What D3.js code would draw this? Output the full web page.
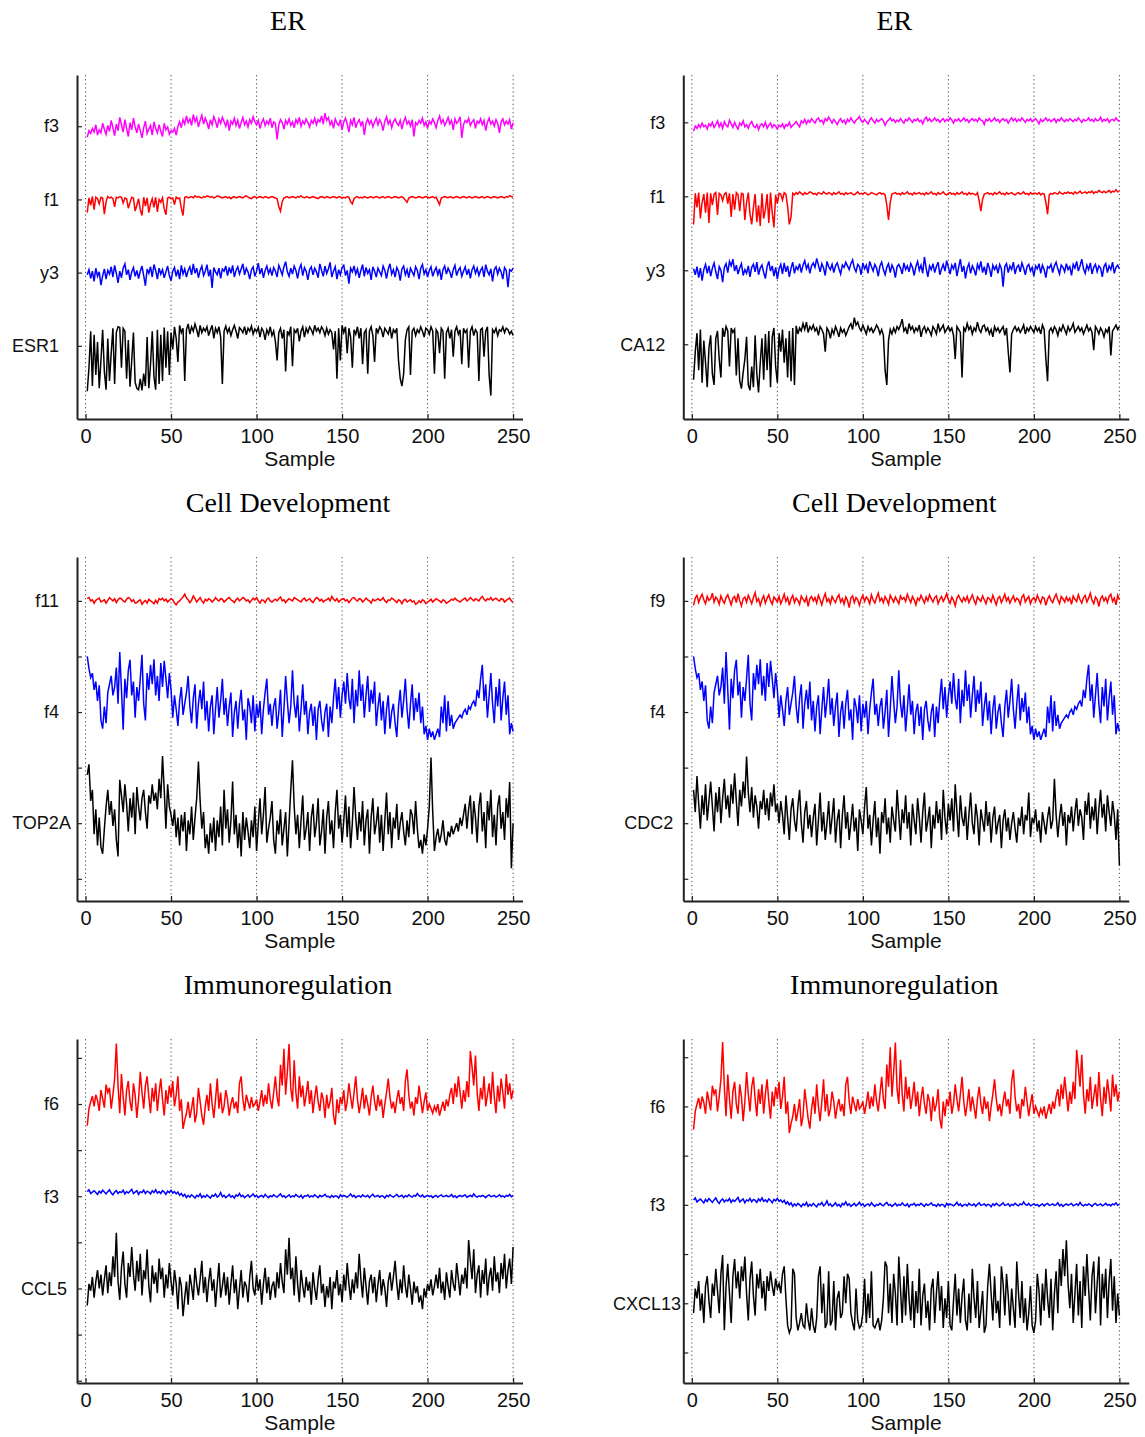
<!DOCTYPE html>
<html>
<head>
<meta charset="utf-8">
<script src="https://cdn.jsdelivr.net/npm/d3@7"></script>
<style>
  body { margin: 0; background: #fff; }
  svg { display: block; }
</style>
</head>
<body>
<svg id="chart" width="1145" height="1437"></svg>
<script>
// ---- data: per-sample values, offsets from each trace's baseline (1/100 of a y tick step) ----
const titles = ["ER", "Cell Development", "Immunoregulation"];
const xTicks = [0, 50, 100, 150, 200, 250];

const erNamesL = ["f3", "f1", "y3", "ESR1"];
const erNamesR = ["f3", "f1", "y3", "CA12"];
const cdNamesL = ["f11", "f4", "TOP2A"];
const cdNamesR = ["f9", "f4", "CDC2"];
const imNamesL = ["f6", "f3", "CCL5"];
const imNamesR = ["f6", "f3", "CXCL13"];

const erF3L = [
  -15,-6,-10,-3,-8,2,-12,-5,-9,4, -4,-11,1,-7,8,-2,-13,3,-6,12, 2,-8,9,-3,-14,5,-5,11,-1,-9, 3,-6,-16,-2,7,-10,-4,1,-12,6, -3,-9,2,-7,-14,4,-5,-1,-11,-6,
  -8,-3,-12,0,6,-2,9,3,14,5, 10,1,16,6,12,-1,8,15,3,11, 5,-4,9,2,13,7,-2,10,4,12, 6,0,9,-6,7,3,11,1,8,-3, 5,12,2,7,-1,9,4,13,6,2,
  8,-3,5,10,1,7,3,11,-2,6, 4,-18,2,9,5,-4,8,3,10,1, 6,-2,9,4,12,0,7,3,10,5, -1,8,4,11,2,9,6,14,3,18, 8,12,2,7,-3,10,4,1,9,-5,
  6,11,3,-8,8,2,12,-2,5,9, 1,7,-12,4,10,3,8,-1,6,11, 2,9,4,-6,7,13,3,8,-2,6, 10,4,1,8,-4,6,12,3,7,0, 9,-14,5,2,8,4,11,1,6,-3,
  7,3,10,5,-2,8,14,4,9,1, 6,12,3,8,-5,10,4,7,13,-16, 2,8,5,11,1,6,9,-3,7,4, 10,2,8,-6,5,11,3,7,0,9, 4,-9,6,10,2,7,3,9,-4,5
];
const erF1L = [
  -18,2,-8,4,-14,3,1,-6,3,2, -20,-3,4,2,3,1,-10,3,2,4, 3,-5,2,1,-12,-4,3,2,-16,-8, 1,-14,-22,3,-9,2,-18,-6,1,-11, 3,-17,0,-4,2,-13,-21,2,3,1,
  2,-7,3,1,2,-12,-22,3,4,2, 3,4,2,5,3,4,3,2,4,3, 5,4,3,4,2,3,5,4,3,2, 3,4,2,3,1,3,4,2,3,4, 3,2,4,5,3,2,1,3,4,2,
  3,4,3,2,4,3,2,3,4,3, 2,1,-10,-16,-3,2,3,4,2,3, 4,3,2,4,3,5,3,2,4,3, 2,3,4,3,2,1,3,4,3,2, 4,3,2,3,4,3,2,4,3,2,
  3,2,4,3,-3,-6,1,3,4,2, 3,2,4,3,2,3,4,2,3,4, 3,2,3,4,2,3,4,3,2,3, 4,3,2,3,4,2,-1,-4,2,3, 4,3,2,3,4,3,2,3,4,3,
  2,3,4,2,3,-2,-7,2,3,4, 3,2,4,3,2,3,4,3,2,3, 4,3,2,4,3,2,3,4,3,2, 3,4,2,3,4,3,2,3,4,3, 2,3,4,3,2,4,3,5,4,3
];
const erY3L = [
  -3,4,-8,2,-12,6,-5,1,-17,-4, 5,-9,3,-2,8,-6,10,-1,-14,2, -7,6,12,-3,4,-10,1,7,-5,3, -8,2,9,-4,-18,5,-1,8,-6,11, 3,-9,6,-2,4,-7,1,9,-4,-11,
  2,7,-5,4,-9,10,-2,5,-6,3, 8,-3,12,-1,6,-7,3,9,-4,2, 11,-5,4,-21,7,1,-3,6,-8,5, 2,9,-4,7,-1,10,-6,3,8,-2, 5,12,-3,6,1,-9,4,8,-5,2,
  13,-2,6,-7,3,9,-1,5,-4,7, 2,-6,10,4,-3,8,15,1,-5,6, -2,9,3,-8,5,11,-4,7,2,-10, 4,8,-3,6,1,-7,12,3,-5,9, -1,5,14,-6,2,8,-9,4,-3,7,
  10,-4,3,-15,6,1,9,-2,5,-7, 3,11,-5,7,-1,4,-10,8,2,-6, 6,1,-4,9,3,-8,5,12,-2,4, -6,7,2,-11,5,9,-3,4,-7,6, 1,-4,8,3,-9,6,11,-2,4,-6,
  3,8,-5,2,7,-3,5,-10,4,9, -2,6,1,-7,4,10,-4,3,7,-5, 2,8,-3,5,-8,4,9,-1,6,-4, 3,7,-6,11,2,-3,5,-12,4,8, -2,6,1,-9,7,3,-20,4,2,6
];
const esr1 = [
  -62,-30,20,-55,15,-40,5,-58,-20,22, -35,-60,10,-48,-10,24,-52,18,26,25, -30,24,20,-45,8,-56,-20,18,-50,-58, -60,-45,-61,-38,-55,12,-58,-25,20,-42, -60,22,-52,15,-48,25,-30,20,-40,18,
  -5,26,10,-22,28,18,24,-48,22,30, 16,26,20,30,22,12,28,18,24,20, 26,14,22,28,10,24,18,26,12,-52, 20,27,18,24,14,22,28,20,10,25, 22,18,26,15,24,20,27,16,23,19,
  25,12,24,20,8,22,16,26,14,20, 6,-20,18,24,10,22,-35,20,15,26, -28,22,18,24,6,20,26,12,24,18, 26,22,16,28,20,24,18,26,22,14, 24,16,22,18,-5,20,-45,24,-20,28,
  18,26,-10,24,12,-30,22,16,26,10, 24,-25,18,22,-38,20,26,14,-22,24, 18,26,22,12,24,20,16,26,10,22, 18,24,-20,-45,-55,-38,8,22,26,-40, 20,24,14,22,18,26,20,12,24,22,
  16,26,20,-38,22,18,-10,24,20,-45, 18,24,10,22,-15,20,26,16,22,-25, 24,18,22,-30,20,26,14,22,18,-48, 22,24,-15,20,26,-40,-68,22,18,24, 14,22,20,26,18,24,22,16,20,14
];

const erF3R = [
  -12,-5,-8,-3,-7,-1,-6,-4,-9,-2, -5,0,-7,-3,2,-6,-1,-8,1,-4, -6,3,-2,-7,0,-5,-9,-1,-4,2, -6,-3,-8,-2,1,-5,-7,-3,-10,-4, -2,-6,0,-8,-4,-1,-7,-3,-5,-9,
  -4,-6,-2,-8,-3,-5,0,-7,-4,-2, 1,-3,-6,2,-1,4,-2,3,0,5, 2,-1,4,6,1,3,-2,5,2,7, 3,-1,4,1,-3,2,5,0,3,-2, 4,1,6,2,-1,3,5,8,2,0,
  4,1,-2,3,6,2,-1,4,1,3, 5,2,-4,1,3,6,2,4,0,3, 1,5,2,-1,4,2,6,3,0,4, 2,5,1,3,-2,4,7,2,5,1, 3,6,2,4,0,3,5,1,4,2,
  6,3,-1,4,2,5,1,3,6,2, 4,0,3,5,2,4,1,6,3,2, -3,4,2,5,1,3,6,2,4,0, 3,5,2,4,-1,3,6,2,5,1, 4,2,6,3,0,4,2,5,1,3,
  5,2,-2,4,1,3,6,2,4,1, 3,5,0,4,2,6,3,1,4,2, 5,3,1,4,2,6,3,0,4,2, 3,6,2,4,1,5,2,3,7,1, 4,2,5,0,3,4,2,6,3,1
];
const erF1R = [
  -38,4,-15,5,-30,-8,3,-22,5,-36, 4,-12,3,5,-25,4,2,-6,3,5, -10,4,-28,3,-18,5,2,-20,4,3, -32,-8,5,-24,-38,-15,3,-35,-12,-40, 4,-30,-18,3,-36,5,-22,-42,2,-10,
  4,3,-5,5,3,-14,-38,-28,4,2, 5,3,6,4,2,5,3,4,6,5, 3,4,2,5,4,3,6,4,3,5, 4,2,5,3,4,6,3,4,2,5, 3,4,5,3,2,4,6,3,4,3,
  5,4,2,3,5,4,3,2,4,5, 3,4,2,-12,-32,-8,3,4,5,3, 4,2,5,3,4,6,3,4,2,5, 3,4,5,3,4,2,5,3,4,6, 3,4,2,5,3,4,6,3,2,4,
  5,3,4,2,5,3,4,6,3,4, 2,5,3,4,3,2,5,-6,-20,-4, 3,4,5,3,4,2,5,3,4,6, 3,4,2,5,3,4,5,3,2,4, 5,3,4,6,3,4,2,5,3,4,
  4,3,5,2,4,3,-8,-24,2,4, 3,5,4,3,6,4,3,5,4,6, 4,5,3,6,4,5,7,4,5,6, 4,6,5,7,4,6,5,8,6,5, 7,5,6,8,5,7,6,9,6,7
];
const erY3R = [
  2,-6,5,-10,3,-14,1,8,-4,6, -8,3,10,-2,-12,5,0,-16,4,9, -3,12,6,15,-1,7,-5,3,9,-7, 1,-4,6,-9,4,8,-2,11,-6,3, 7,-3,-11,5,12,-1,6,-8,4,-12,
  2,8,-5,10,-2,6,-9,3,11,-4, 5,1,9,-3,7,13,2,8,-4,6, 10,4,16,7,-2,9,3,-7,12,5, 1,8,-3,6,10,2,-5,7,4,11, 6,1,9,14,3,-2,8,5,-6,10,
  2,7,-4,12,5,-1,8,3,-8,6, 11,1,-6,4,9,-3,7,2,-10,5, 8,3,-5,10,1,6,-2,9,4,-7, 5,12,0,7,-4,18,3,-9,6,1, 9,-3,5,11,-6,2,8,-1,13,4,
  -5,7,2,10,-8,4,15,-2,6,-11, 3,9,-4,6,1,-7,8,2,12,-3, 5,-6,10,3,-9,7,1,6,-4,8, 2,-22,5,9,-3,6,1,11,-5,4, 7,-2,10,3,-6,5,8,-1,4,-8,
  6,2,9,-4,7,1,-10,5,3,8, -3,6,11,2,-5,7,4,-2,9,1, 5,-7,8,3,12,-1,6,15,2,-4, 7,1,10,-5,4,8,-2,6,3,-9, 5,9,-3,6,1,11,-4,4,7,2
];
const ca12 = [
  -48,-10,15,-35,20,-52,5,-25,-58,-5, 12,-40,-55,8,18,-20,-45,22,10,24, 18,-30,22,16,20,-42,8,-50,-60,-38, -20,10,-55,-62,-30,-58,12,-40,-65,-25, 8,-48,14,-35,18,-58,10,22,-30,-52,
  15,-10,20,-25,8,-45,18,-50,22,-55, 25,14,22,18,28,20,30,16,24,20, 26,18,22,12,24,20,14,-10,22,18, 8,20,14,24,18,10,22,16,20,12, 18,24,28,20,36,26,30,22,18,26,
  20,14,24,18,22,16,20,26,22,14, 20,12,-35,-55,5,20,14,22,16,24, 20,26,34,18,22,14,28,20,24,16, 22,18,26,10,20,24,16,22,18,12, 24,20,14,28,18,22,26,16,20,24,
  18,22,12,-20,24,20,16,-45,22,18, 28,20,24,14,22,18,30,20,16,24, 26,18,22,14,20,10,24,18,22,16, 20,24,12,22,-10,-38,14,20,24,18, 22,16,20,26,14,22,18,24,20,16,
  24,18,22,14,26,20,-20,-50,18,22, 16,24,20,12,22,18,26,20,14,24, 18,22,28,16,20,24,18,22,14,20, 26,18,22,16,-8,24,20,14,22,18, 10,20,16,24,-15,18,22,26,20,24
];

const cdF11 = [
  4,6,0,2,-4,1,3,5,-2,0, 2,-4,1,6,3,0,4,-3,2,5, 4,0,-2,3,6,4,-1,2,-4,-3, 0,2,-6,-2,1,-4,3,0,-2,-5, 1,-4,4,2,5,0,3,-2,1,4,
  2,-4,-7,-2,0,4,7,12,5,2, -3,1,9,4,-2,2,6,0,-4,3, 0,4,2,-2,1,6,2,0,4,3, -2,1,4,6,2,0,-3,2,5,0, 3,6,4,0,2,-3,1,5,2,6,
  0,-4,2,1,-3,3,5,0,-2,1, 3,0,4,7,0,2,-3,1,4,2, 0,6,4,2,0,-2,3,5,0,2, 4,0,-3,2,6,4,0,3,-2,1, 2,5,0,8,3,0,4,-2,1,3,
  4,0,2,-3,1,5,6,2,0,4, 3,-2,1,5,2,0,-4,3,0,2, 4,1,2,6,0,-3,2,1,5,3, 0,-3,2,0,-5,1,3,-2,0,2, -2,0,-6,-4,0,-3,2,0,-5,-2,
  0,3,-2,1,4,2,0,-3,2,0, -4,-2,0,3,1,5,2,0,-2,1, 3,5,0,2,6,3,0,4,2,0, 5,8,3,0,4,2,6,1,3,5, 2,0,4,3,-2,1,3,5,0,-2
];
// f4 is the same factor in both Cell Development panels
const cdF4 = [
  100,78,62,70,40,55,20,48,-15,-30, 10,-20,35,50,65,30,45,80,15,108, 40,-32,60,25,75,94,30,55,-10,45, 20,60,103,15,-15,70,40,85,50,95, 30,65,20,88,45,92,60,25,70,40,
  -10,30,5,-25,20,45,-5,15,35,65, 10,-20,25,50,-30,15,40,5,55,-15, 20,-35,10,30,-40,5,45,-10,20,60, -5,25,-25,10,35,-45,0,20,-30,15, 40,-15,5,-50,25,10,-20,30,-35,15,
  -10,20,-40,5,35,60,-5,15,-25,10, 25,-30,0,40,-45,5,65,20,-20,10, 75,15,-10,30,-35,5,50,-5,20,-40, 0,15,-25,10,-50,5,20,-15,-35,0, 15,-45,10,-20,25,60,5,45,-10,30,
  55,15,70,25,5,60,-20,40,10,75, 20,50,-10,30,65,0,40,15,55,-25, 10,35,-15,20,-40,5,30,-30,0,15, -20,-45,10,40,-10,20,60,5,-30,15, 50,-15,25,0,35,-20,10,-40,-25,-50,
  -30,-45,-35,-50,-40,-30,-45,10,-20,30, -35,20,-25,-5,-30,-20,-15,-10,-5,-10, 0,5,-5,10,5,15,20,10,40,25, 60,85,20,50,-10,30,70,15,-20,45, 10,60,-15,25,55,-5,30,-40,-20,-35
];
const top2a = [
  87,106,40,60,-20,25,-40,10,-43,-55, -10,30,60,15,40,-5,25,-30,-60,78, 50,20,70,35,-15,45,10,55,-20,65, 30,5,45,60,20,-10,50,35,70,40, 55,25,80,45,121,60,-10,70,30,15,
  -5,25,-25,10,-40,15,-15,20,-50,5, -20,30,-30,10,45,111,40,-10,20,-45, -20,-55,0,-35,10,-50,5,-25,30,-40, 60,-10,25,-35,5,75,-20,15,-45,0, -60,20,-30,10,-15,-45,5,-25,30,-50,
  0,45,-20,15,65,-35,-10,10,40,-30, -55,5,-20,25,-40,-10,20,-60,0,60, 113,30,-20,15,-45,5,50,-30,-10,20, -50,10,35,-25,0,45,-40,-15,25,-55, 10,40,-20,5,-45,20,60,-10,15,-35,
  5,50,-25,30,-45,0,65,10,-30,20, -15,40,-40,5,25,-55,10,45,-20,0, 30,-35,15,-50,5,55,-20,20,-45,10, -10,35,-30,0,20,-15,-40,5,-25,25, 15,-20,40,-10,-45,-30,-55,-20,-40,-10,
  30,118,20,-50,-25,-10,-35,-20,5,-30, -40,-15,-25,-5,-20,-10,0,-15,10,-5, 15,35,-10,25,50,-20,40,10,-35,30, 55,-15,20,-45,40,5,60,-25,15,-40, 30,50,-10,20,-30,45,10,74,-81,0
];
const cdF9 = [
  -8,5,10,-3,6,12,2,-5,8,1, 4,14,-2,7,3,-6,9,1,-4,6, 11,2,-7,5,8,-3,13,0,-9,4, 7,-2,10,3,-5,6,15,-1,4,-8, 2,9,-4,5,11,0,-6,7,3,-2,
  8,-5,3,12,-1,6,-8,4,10,-3, 5,1,-6,9,3,-2,7,-10,4,8, 0,6,-4,10,2,-7,5,13,-1,4, -5,8,2,-3,6,11,-2,4,-6,7, 1,-12,5,9,-3,6,2,-8,4,10,
  -1,7,3,-5,11,2,-4,6,14,0, 5,-3,8,2,-6,10,4,-2,7,1, -5,9,3,6,-1,12,4,-3,8,2, -7,5,1,10,3,-4,7,0,11,4, -2,6,9,-5,3,8,-1,5,13,2,
  -4,7,1,-9,5,10,3,-2,6,0, 8,-3,4,11,1,-6,7,3,-1,9, 2,-5,6,4,-2,10,1,-7,5,8, -3,4,12,0,6,-4,3,9,-1,5, 2,-6,7,11,-2,4,8,-5,3,6,
  -1,10,2,-4,7,5,-8,3,9,1, -3,6,12,2,-5,8,4,-2,7,0, 5,-6,9,3,-1,11,2,-4,6,10, -2,5,14,1,-5,7,3,-10,4,9, 0,6,-3,8,12,-1,5,-7,10,2
];
const cdc2 = [
  60,20,85,35,-10,50,15,70,5,40, 75,30,-15,55,20,65,0,45,80,25, 50,10,70,35,90,40,-5,60,30,75, 45,120,55,20,65,10,50,30,-10,40, 25,60,15,45,5,55,30,70,20,35,
  0,40,15,-20,50,10,-30,25,45,5, -15,30,60,0,-35,20,40,-10,15,-25, 10,35,-40,5,55,-15,20,-30,0,40, -20,10,45,-35,5,25,-45,15,50,-10, 20,-30,0,35,-15,10,-50,25,5,-20,
  30,65,-10,15,-40,5,40,-25,10,-55, 20,0,45,-20,10,-35,30,5,-15,60, 15,-30,25,0,50,-10,20,-40,35,5, -20,45,10,-35,20,55,-15,5,30,-45, 15,-10,40,0,25,-30,60,10,-20,35,
  5,45,-15,70,20,-25,50,10,-5,30, -30,15,55,0,-20,35,10,-40,25,5, -15,40,-5,20,-35,10,30,-20,0,15, -45,5,25,-15,10,-30,0,20,-10,-35, 10,-5,30,-20,15,5,55,-25,10,0,
  25,-15,5,-35,20,0,-20,10,30,-10, 5,80,15,-25,10,35,-5,20,-40,15, 0,30,-15,20,45,-5,25,10,-30,40, 15,55,-10,30,5,45,-20,25,60,10, 35,-15,50,20,-5,40,15,-30,25,-76
];

// f6 and f3 are the same factors in both Immunoregulation panels
const imF6 = [
  -47,-10,5,17,-5,20,8,-15,30,12, -8,42,25,35,-10,20,55,131,40,-20, 65,15,-25,30,50,5,-15,45,20,-30, 10,70,25,-10,40,60,15,-20,35,5, 45,-15,25,55,10,-25,30,0,40,15,
  50,-5,20,60,-15,10,-54,-35,-20,5, -30,-10,15,-40,-20,35,5,-25,-45,-5, 20,-15,45,0,-30,10,55,-10,25,-20, -5,30,10,-25,0,15,-10,5,-20,45, 60,10,-15,20,5,-10,15,-5,0,10,
  -15,5,30,-5,20,0,45,10,-10,25, 60,15,-5,85,40,120,20,70,130,35, 5,95,25,-10,60,15,40,-5,20,50, 0,30,-20,15,40,5,-15,25,10,-30, 20,-10,5,35,-25,-45,10,-20,15,0,
  30,-15,5,45,15,-10,25,60,10,-20, 5,35,-10,20,0,-25,15,40,5,-15, 20,-5,10,-30,0,25,55,15,-10,5, -20,10,30,0,15,-15,50,75,20,-10, 5,-25,15,0,40,10,-20,5,25,-15,
  0,-10,-20,-5,-15,0,-25,-10,5,-15, 10,-5,20,35,0,45,15,60,25,-10, 30,5,50,15,115,80,40,105,25,-15, 35,10,60,-5,20,45,0,70,15,-20, 40,5,55,25,-10,65,20,45,10,30
];
const imF3 = [
  10,14,6,9,12,8,4,11,7,13, 9,5,10,14,7,3,9,12,6,10, 8,13,5,10,7,11,15,6,9,12, 4,10,8,13,6,11,9,5,12,8, 14,7,10,6,12,9,4,11,8,13,
  7,10,5,9,2,6,0,4,-3,2, -2,3,0,-4,2,-1,5,-3,1,-2, 3,-1,-4,2,0,5,-2,1,8,-1, 2,-3,0,4,-2,1,-4,3,0,6, -1,2,-3,0,3,-2,1,5,-1,2,
  -3,0,2,-2,4,0,-3,1,-1,3, 0,-2,2,5,-1,1,-3,0,3,-2, 1,-1,4,0,-2,2,-4,1,0,3, -2,1,-1,3,0,-3,2,-1,1,4, -1,0,-3,2,-2,1,0,-4,3,-1,
  2,0,-2,1,5,-1,2,-3,0,1, -2,3,0,-1,2,-3,1,4,-1,0, 2,-2,1,0,-4,2,-1,3,0,-2, 1,4,-1,0,2,-3,1,-1,3,0, -2,2,0,6,1,-1,3,-2,0,2,
  -1,1,-3,0,2,-2,1,3,-1,0, 2,-1,0,4,-2,1,-3,0,2,-1, 1,3,-2,0,2,-1,5,0,-2,1, -1,2,0,-3,1,3,-1,0,2,-2, 0,3,-1,1,-2,2,0,4,-1,1
];
const ccl5 = [
  -37,10,-5,25,-20,15,40,0,30,-15, 20,50,-10,35,5,70,25,121,15,-25, 45,80,10,-20,55,25,90,30,-5,60, 15,75,-15,40,20,85,5,-30,50,10, 35,-10,65,20,45,-20,30,0,55,15,
  -15,40,10,-45,25,5,-60,-20,15,-35, 30,5,-25,45,10,-15,20,60,-10,25, -30,15,45,-5,20,-40,10,55,-20,5, 35,-15,25,-35,10,50,-10,20,-45,0, 40,-20,15,5,-30,25,60,0,-15,30,
  -5,20,-35,10,45,-10,25,-25,5,15, -20,35,0,55,15,-10,85,30,110,20, 45,-15,70,10,-30,40,5,-20,25,-5, 15,-35,35,0,-25,20,50,-10,10,-40, 5,-20,25,-45,15,0,40,-15,10,-30,
  30,-5,55,10,-25,20,-10,35,0,75, 20,-20,45,5,-35,15,30,-10,25,-30, 10,40,-15,20,0,-40,15,35,-5,25, 60,10,-25,20,-10,50,5,-20,30,0, -35,15,-10,5,-30,-15,-45,0,-20,10,
  -5,20,-15,5,30,0,45,-10,15,-25, 35,5,-20,40,10,-5,55,20,-15,30, 10,45,0,105,60,20,85,-10,30,50, -20,40,10,65,-15,25,45,-5,70,15, 35,-10,55,20,75,0,40,65,10,90
];
const cxcl13 = [
  -20,30,10,45,-15,20,-40,35,55,5, -30,40,15,70,25,-20,60,98,-55,35, 80,20,-40,55,90,30,65,10,75,45, 95,20,-35,50,85,15,-25,60,30,70, 10,45,-15,55,25,65,35,15,50,30,
  40,20,60,75,10,-45,-60,-50,70,60, -30,-55,-40,-20,-45,-50,0,-35,-55,-10, -45,-60,-30,55,75,-20,40,-50,-40,65, -45,-35,45,-55,10,25,-30,-20,55,0, 60,50,-20,-40,-55,30,-35,-50,-45,-20,
  50,-40,20,-30,65,-45,-50,-40,-30,-55, -35,10,85,75,-20,40,-40,60,20,-45, 95,30,-40,55,-25,80,10,-35,45,-50, 25,-20,70,-45,15,40,-30,5,-55,30, 50,-40,20,65,-15,35,-50,10,-30,45,
  -45,-55,5,60,-25,30,-40,15,50,-35, -55,20,-40,70,10,-30,45,-50,-15,25, -60,-45,35,80,20,-35,55,-20,5,-50, 75,40,-25,60,15,-45,30,-10,-50,85, 20,-30,45,-40,10,-55,-20,35,-45,-60,
  -35,60,25,-45,40,-15,70,10,-30,50, -55,20,65,-20,90,35,110,55,128,40, -10,60,-40,20,80,-25,45,-50,75,15, 100,30,-35,55,85,-20,40,95,-45,60, 10,70,-30,45,90,-15,55,-40,20,-25
];

// ---- layout ----
const MAGENTA = "#ff00ff", RED = "#ff0000", BLUE = "#0000ff", BLACK = "#000000";
const colX = [77, 683.3];
const rowTop = [75, 557, 1039];
const plotW = 445.5, plotH = 344;
const xDomain = [-5, 255.5];

const panels = [
  { col: 0, row: 0, names: erNamesL, values: [erF3L, erF1L, erY3L, esr1], colors: [MAGENTA, RED, BLUE, BLACK],
    base: [300, 200, 100, 0], domain: [-100, 370], ticks: [0, 100, 200, 300] },
  { col: 1, row: 0, names: erNamesR, values: [erF3R, erF1R, erY3R, ca12], colors: [MAGENTA, RED, BLUE, BLACK],
    base: [300, 200, 100, 0], domain: [-101, 364], ticks: [0, 100, 200, 300] },
  { col: 0, row: 1, names: cdNamesL, values: [cdF11, cdF4, top2a], colors: [RED, BLUE, BLACK],
    base: [400, 200, 0], domain: [-140, 479], ticks: [-100, 0, 100, 200, 300, 400] },
  { col: 1, row: 1, names: cdNamesR, values: [cdF9, cdF4, cdc2], colors: [RED, BLUE, BLACK],
    base: [400, 200, 0], domain: [-140, 479], ticks: [-100, 0, 100, 200, 300, 400] },
  { col: 0, row: 2, names: imNamesL, values: [imF6, imF3, ccl5], colors: [RED, BLUE, BLACK],
    base: [400, 200, 0], domain: [-205, 541], ticks: [-200, -100, 0, 100, 200, 300, 400, 500] },
  { col: 1, row: 2, names: imNamesR, values: [imF6, imF3, cxcl13], colors: [RED, BLUE, BLACK],
    base: [400, 200, 0], domain: [-162, 537], ticks: [-100, 0, 100, 200, 300, 400, 500] }
];

const svg = d3.select("#chart");
const sans = "'Liberation Sans', Arial, Helvetica, sans-serif";

panels.forEach(p => {
  const g = svg.append("g").attr("transform", `translate(${colX[p.col]},${rowTop[p.row]})`);
  const x = d3.scaleLinear().domain(xDomain).range([0, plotW]);
  const y = d3.scaleLinear().domain(p.domain).range([plotH, 0]);

  // dotted vertical grid
  g.append("g").selectAll("line").data(xTicks).join("line")
      .attr("x1", d => x(d)).attr("x2", d => x(d))
      .attr("y1", 0).attr("y2", plotH)
      .attr("stroke", "#555").attr("stroke-width", 1)
      .attr("stroke-dasharray", "1.3,2.8");

  // traces
  p.values.forEach((vals, k) => {
    const line = d3.line()
        .x((d, i) => x(i + 1))
        .y(d => y(p.base[k] + d));
    g.append("path")
        .datum(vals)
        .attr("fill", "none")
        .attr("stroke", p.colors[k])
        .attr("stroke-width", 1.5)
        .attr("d", line);
  });

  // x axis, ticks pointing inward
  const xg = g.append("g")
      .attr("transform", `translate(0,${plotH})`)
      .call(d3.axisBottom(x).tickValues(xTicks).tickSizeInner(-5).tickSizeOuter(0).tickPadding(10));
  xg.attr("font-family", sans).attr("font-size", 20);

  // y axis: every step gets a tick, only trace baselines get a name
  const labelOf = v => {
    const k = p.base.indexOf(v);
    return k >= 0 ? p.names[k] : "";
  };
  const yg = g.append("g")
      .call(d3.axisLeft(y).tickValues(p.ticks).tickSizeInner(-5).tickSizeOuter(0).tickPadding(18).tickFormat(labelOf));
  yg.attr("font-family", sans).attr("font-size", 18);
  yg.selectAll(".tick text").each(function () {
    const w = this.getComputedTextLength();
    if (p.row > 0 && w > 50) d3.select(this).attr("x", -10 + 0.4 * (w - 49));
    else if (p.row > 0 && w > 40) d3.select(this).attr("x", -10);
  });

  [xg, yg].forEach(a => {
    a.select(".domain").attr("stroke", "#222").attr("stroke-width", 2);
    a.selectAll(".tick line").attr("stroke", "#222").attr("stroke-width", 1.2);
    a.selectAll(".tick text").attr("fill", "#111");
  });

  g.append("text")
      .attr("x", plotW / 2).attr("y", plotH + 47)
      .attr("text-anchor", "middle")
      .attr("font-family", sans).attr("font-size", 21).attr("fill", "#111")
      .text("Sample");

  g.append("text")
      .attr("x", 211).attr("y", -45)
      .attr("text-anchor", "middle")
      .attr("font-family", "'Liberation Serif', 'Times New Roman', serif")
      .attr("font-size", 28).attr("fill", "#000")
      .text(titles[p.row]);
});
</script>
</body>
</html>
